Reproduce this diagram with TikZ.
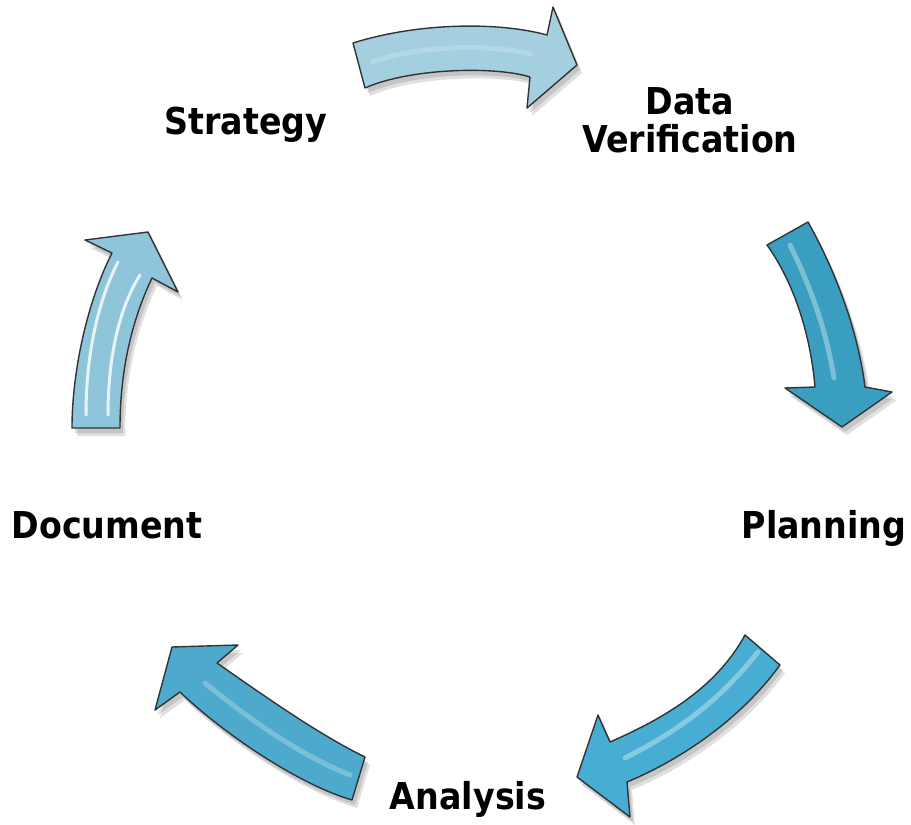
\documentclass[tikz,border=0pt]{standalone}
\usepackage{fontspec}
\setmainfont{DejaVu Sans}[FakeStretch=0.9]
\begin{document}
\begin{tikzpicture}[x=1pt,y=-1pt,
  lbl/.style={font=\fontsize{37}{38}\selectfont\bfseries, inner sep=0pt, align=center},
  arrowbody/.style={draw=black!80, line width=1.4pt, line join=round},
  arrowshadow/.style={fill=black, opacity=0.12, draw=none},
  shine/.style={draw=white, line width=5pt, line cap=round, opacity=0.35}]
\useasboundingbox (0,0) rectangle (911,825);
\definecolor{cTop}{HTML}{A3CFDF}
\definecolor{cRight}{HTML}{3A9EC0}
\definecolor{cBR}{HTML}{47ADD2}
\definecolor{cBL}{HTML}{4EAACC}
\definecolor{cLeft}{HTML}{8EC5DA}
% path macros
\newcommand\pathTop{(353,43) .. controls (420,22) and (500,22) .. (547,35) -- (553,7) -- (577,65) -- (527,108) -- (530,77) .. controls (495,66) and (410,68) .. (365,88) -- cycle}
\newcommand\pathRight{(767,245) -- (808,222) .. controls (835,270) and (858,330) .. (865,387) -- (892,392) -- (842,427) -- (785,388) -- (815,387) .. controls (810,330) and (792,280) .. (767,245) -- cycle}
\newcommand\pathBR{(745,635) -- (780,665) .. controls (740,720) and (680,760) .. (627,782) -- (630,817) -- (577,777) -- (598,715) -- (610,742) .. controls (660,720) and (715,690) .. (745,635) -- cycle}
\newcommand\pathBL{(172,647) -- (238,645) -- (217,663) .. controls (270,700) and (320,735) .. (365,757) -- (352,800) .. controls (300,785) and (225,735) .. (180,692) -- (155,710) -- cycle}
\newcommand\pathLeft{(148,232) -- (178,292) -- (152,278) .. controls (132,320) and (120,370) .. (120,428) -- (72,428) .. controls (72,370) and (88,300) .. (112,253) -- (85,240) -- cycle}
% shadows
\foreach \dx/\dy in {3/5,5/8}{
  \begin{scope}[shift={(\dx,\dy)}]
    \fill[arrowshadow] \pathTop;
    \fill[arrowshadow] \pathRight;
    \fill[arrowshadow] \pathBR;
    \fill[arrowshadow] \pathBL;
    \fill[arrowshadow] \pathLeft;
  \end{scope}
}
% arrows
\draw[arrowbody, fill=cTop] \pathTop;
\draw[arrowbody, fill=cRight] \pathRight;
\draw[arrowbody, fill=cBR] \pathBR;
\draw[arrowbody, fill=cBL] \pathBL;
\draw[arrowbody, fill=cLeft] \pathLeft;
% highlights
\draw[shine, opacity=0.2] (372,62) .. controls (420,45) and (490,44) .. (530,54);
\draw[shine] (790,245) .. controls (812,290) and (826,330) .. (834,378);
\draw[shine] (758,652) .. controls (720,700) and (680,730) .. (625,758);
\draw[shine, opacity=0.25] (350,775) .. controls (300,755) and (250,720) .. (205,683);
\draw[shine, line width=3pt, opacity=0.8] (86,415) .. controls (86,360) and (96,305) .. (118,262);
\draw[shine, line width=3pt, opacity=0.8] (108,415) .. controls (108,360) and (118,310) .. (140,275);
% labels
\node[lbl, anchor=base] (strategy) at (246,134) {Strategy};
\node[lbl, anchor=center] (dataver) at (690,120) {Data\\Verification};
\node[lbl, anchor=base] (planning) at (824,538) {Planning};
\node[lbl, anchor=base] (analysis) at (468,809) {Analysis};
\node[lbl, anchor=base] (document) at (107,538) {Document};
\end{tikzpicture}
\end{document}
